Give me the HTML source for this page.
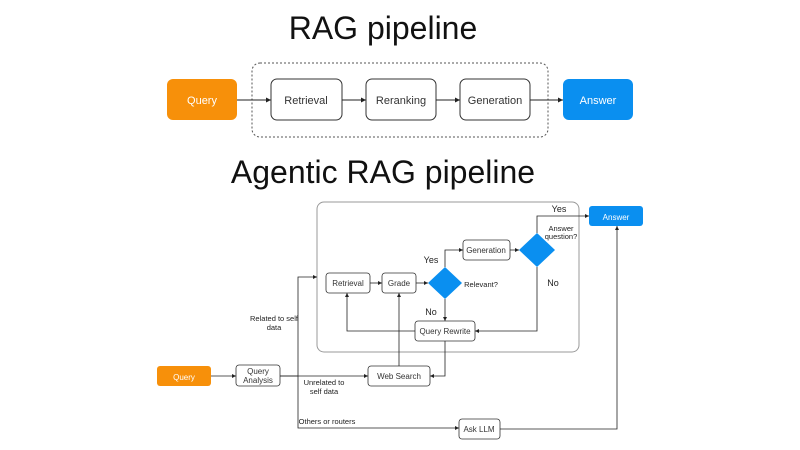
<!DOCTYPE html>
<html><head><meta charset="utf-8"><style>
html,body{margin:0;padding:0;background:#fff;}
svg{display:block;font-family:"Liberation Sans",sans-serif;}
</style></head><body>
<svg width="800" height="450" viewBox="0 0 800 450" xmlns="http://www.w3.org/2000/svg">
<defs>
<marker id="a" viewBox="0 0 6 6" refX="6" refY="3" markerWidth="5" markerHeight="5" orient="auto"><path d="M0,0L6,3L0,6z" fill="#222"/></marker>
</defs>
<text x="383" y="39" font-size="32" text-anchor="middle" fill="#111">RAG pipeline</text>
<rect x="252" y="63" width="296" height="74" rx="8" fill="none" stroke="#555" stroke-dasharray="2,2"/>
<rect x="167" y="79" width="70" height="41" rx="6" fill="#f7900a"/>
<text x="202" y="104" font-size="11" fill="#fff" text-anchor="middle">Query</text>
<g fill="#fff" stroke="#333" stroke-width="1">
<rect x="271" y="79" width="71" height="41" rx="6"/>
<rect x="366" y="79" width="70" height="41" rx="6"/>
<rect x="460" y="79" width="70" height="41" rx="6"/>
</g>
<g font-size="11" fill="#333" text-anchor="middle">
<text x="306" y="104">Retrieval</text><text x="401" y="104">Reranking</text><text x="495" y="104">Generation</text>
</g>
<rect x="563" y="79" width="70" height="41" rx="6" fill="#0a8ff0"/>
<text x="598" y="104" font-size="11" fill="#fff" text-anchor="middle">Answer</text>
<g stroke="#222" fill="none" marker-end="url(#a)">
<line x1="237" y1="100" x2="271" y2="100"/><line x1="342" y1="100" x2="366" y2="100"/>
<line x1="436" y1="100" x2="460" y2="100"/><line x1="530" y1="100" x2="563" y2="100"/>
</g>
<text x="383" y="183" font-size="32" text-anchor="middle" fill="#111">Agentic RAG pipeline</text>

<rect x="317" y="202" width="262" height="150" rx="7" fill="none" stroke="#999"/>
<rect x="157" y="366" width="54" height="20" rx="3" fill="#f7900a"/>
<text x="184" y="380" font-size="8" fill="#fff" text-anchor="middle">Query</text>
<rect x="589" y="206" width="54" height="20" rx="3" fill="#0a8ff0"/>
<text x="616" y="220" font-size="8" fill="#fff" text-anchor="middle">Answer</text>
<g fill="#fff" stroke="#333" stroke-width="0.8">
<rect x="236" y="365" width="44" height="21" rx="3"/>
<rect x="326" y="273" width="44" height="20" rx="3"/>
<rect x="382" y="273" width="34" height="20" rx="3"/>
<rect x="463" y="240" width="47" height="20" rx="3"/>
<rect x="415" y="321" width="60" height="20" rx="3"/>
<rect x="368" y="366" width="62" height="20" rx="3"/>
<rect x="459" y="419" width="41" height="20" rx="3"/>
</g>
<path d="M445,267L462,283L445,299L428,283z" fill="#0a8ff0"/>
<path d="M537,233L555,250L537,267L519,250z" fill="#0a8ff0"/>
<g font-size="8" fill="#333" text-anchor="middle">
<text x="258" y="374">Query</text><text x="258" y="383">Analysis</text>
<text x="348" y="286">Retrieval</text><text x="399" y="286">Grade</text>
<text x="486" y="253">Generation</text><text x="445" y="334">Query Rewrite</text>
<text x="399" y="379">Web Search</text><text x="479" y="432">Ask LLM</text>
</g>
<g font-size="7.5" fill="#222" text-anchor="middle">
<text x="274" y="321">Related to self</text><text x="274" y="330">data</text>
<text x="324" y="385">Unrelated to</text><text x="324" y="394">self data</text>
<text x="327" y="424">Others or routers</text>
<text x="481" y="287">Relevant?</text>
<text x="561" y="231">Answer</text><text x="561" y="239">question?</text>
</g>
<g font-size="9" fill="#222" text-anchor="middle">
<text x="431" y="263">Yes</text><text x="431" y="315">No</text>
<text x="559" y="212">Yes</text><text x="553" y="286">No</text>
</g>
<g stroke="#222" stroke-width="0.8" fill="none" marker-end="url(#a)">
<line x1="211" y1="376" x2="236" y2="376"/>
<line x1="280" y1="376" x2="368" y2="376"/>
<polyline points="280,376 298,376 298,277 317,277"/>
<polyline points="298,376 298,428 459,428"/>
<line x1="370" y1="283" x2="382" y2="283"/>
<line x1="416" y1="283" x2="428" y2="283"/>
<polyline points="445,267 445,250 463,250"/>
<line x1="510" y1="250" x2="519" y2="250"/>
<polyline points="537,233 537,216 589,216"/>
<line x1="445" y1="299" x2="445" y2="321"/>
<polyline points="537,267 537,331 475,331"/>
<polyline points="415,331 347,331 347,293"/>
<line x1="399" y1="366" x2="399" y2="293"/>
<polyline points="445,341 445,376 430,376"/>
<polyline points="500,429 617,429 617,226"/>
</g>
</svg>
</body></html>
